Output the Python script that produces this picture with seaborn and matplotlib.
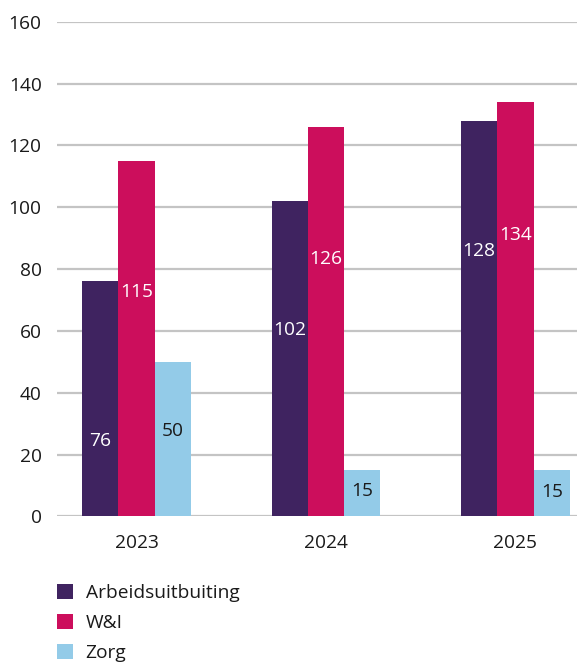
import matplotlib
matplotlib.use("Agg")
import matplotlib.pyplot as plt
from matplotlib.patches import Patch
import seaborn as sns
import pandas as pd

years = ["2023", "2024", "2025"]
series = ["Arbeidsuitbuiting", "W&I", "Zorg"]
arbeid = [76, 102, 128]
wi = [115, 126, 134]
zorg = [50, 15, 15]
colors = ["#3f2360", "#cc0e5c", "#93cbe8"]
label_colors = ["white", "white", "#1a1a1a"]
# vertical position of value labels as a fraction of bar height
label_frac = [[0.32, 0.59, 0.67], [0.63, 0.66, 0.68], [0.55, 0.54, 0.53]]
yticks = [0, 20, 40, 60, 80, 100, 120, 140, 160]

df = pd.DataFrame({
    "year": years * 3,
    "series": [s for s in series for _ in years],
    "value": arbeid + wi + zorg,
})

sns.set_theme(style="white")
plt.rcParams["font.family"] = ["Open Sans", "DejaVu Sans"]

FS = 13.8

fig = plt.figure(figsize=(5.77, 6.64), dpi=100)
ax = fig.add_axes([57 / 577, 1 - 516.4 / 664, 1 - 57 / 577, (516.4 - 21.7) / 664])

sns.barplot(data=df, x="year", y="value", hue="series", order=years,
            hue_order=series, palette=colors, width=0.575, saturation=1,
            ax=ax, legend=False, linewidth=0)

ax.set_ylim(0, 160)
ax.set_xlim(-0.42, 2.325)
ax.set_yticks(yticks)
ax.yaxis.grid(True, color="#c4c4c4", linewidth=1.6)
ax.set_axisbelow(True)
for s in ax.spines.values():
    s.set_visible(False)
ax.tick_params(axis="y", length=0, pad=11, labelsize=FS, colors="#1a1a1a")
ax.tick_params(axis="x", length=0, pad=13, labelsize=FS, colors="#1a1a1a")
ax.set_xlabel("")
ax.set_ylabel("")

for si, cont in enumerate(ax.containers):
    for bi, bar in enumerate(cont):
        h = bar.get_height()
        ax.text(bar.get_x() + bar.get_width() / 2, h * label_frac[si][bi],
                f"{int(round(h))}", ha="center", va="center",
                color=label_colors[si], fontsize=FS)

handles = [Patch(facecolor=c, edgecolor="none") for c in colors]
fig.legend(handles, series, loc="upper left",
           bbox_to_anchor=(57 / 577, 1 - 584 / 664), frameon=False,
           borderpad=0, borderaxespad=0, handlelength=0.85, handleheight=0.85,
           handletextpad=0.65, labelspacing=0.6, fontsize=FS,
           labelcolor="#1a1a1a")

fig.savefig("out.png", dpi=100)
